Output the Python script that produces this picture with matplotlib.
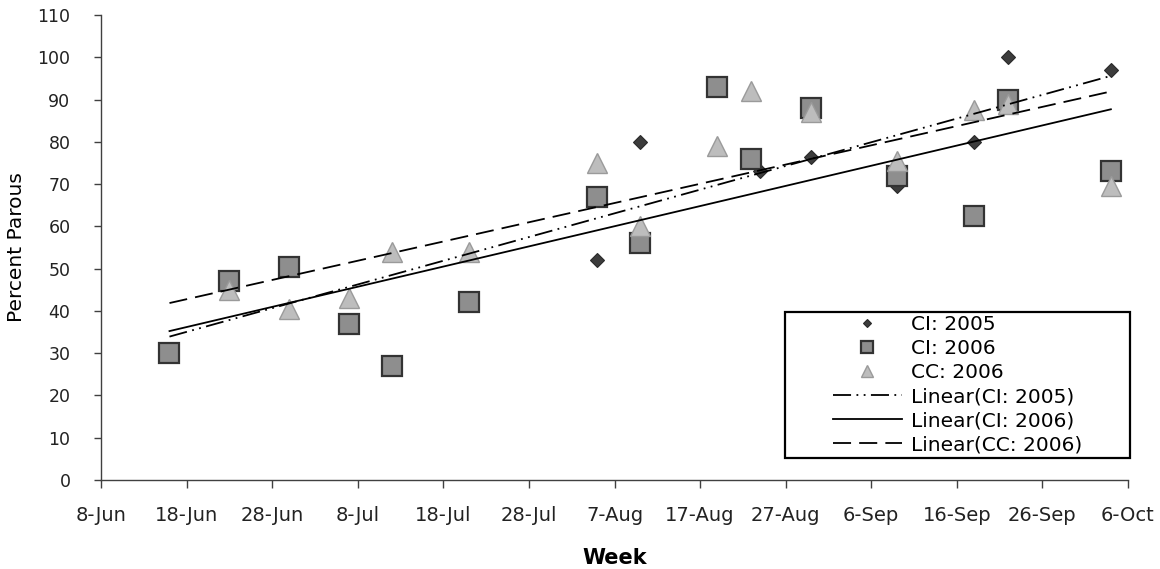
import matplotlib

matplotlib.use("Agg")

import matplotlib.dates as mdates
import matplotlib.pyplot as plt
import numpy as np
import pandas as pd
from matplotlib.patches import Rectangle

# Values (both years drawn on one seasonal axis)
ci05_dates = ["Aug 5", "Aug 10", "Aug 24", "Aug 30", "Sep 9", "Sep 18", "Sep 22", "Oct 4"]
ci05_vals = [52, 80, 73, 76.5, 69.5, 80, 100, 97]

ci06_dates = ["Jun 16", "Jun 23", "Jun 30", "Jul 7", "Jul 12", "Jul 21", "Aug 5", "Aug 10",
              "Aug 19", "Aug 23", "Aug 30", "Sep 9", "Sep 18", "Sep 22", "Oct 4"]
ci06_vals = [30, 47, 50.5, 37, 27, 42, 67, 56, 93, 76, 88, 72, 62.5, 90, 73]

cc06_dates = ["Jun 23", "Jun 30", "Jul 7", "Jul 12", "Jul 21", "Aug 5", "Aug 10", "Aug 19",
              "Aug 23", "Aug 30", "Sep 9", "Sep 18", "Sep 22", "Oct 4"]
cc06_vals = [45, 40.5, 43, 54, 54, 75, 60, 79, 92, 87, 75.5, 87.5, 89, 69.5]

series_names = ["CI: 2005", "CI: 2006", "CC: 2006"]

AXIS_COLOR = "#404040"


def to_dates(labels):
    return pd.to_datetime(["2006 " + s for s in labels], format="%Y %b %d")


plt.rcParams["font.family"] = ["DejaVu Sans"]

fig = plt.figure(figsize=(11.6, 5.69), dpi=100)
ax = fig.add_axes([0.0871, 0.1564, 0.8853, 0.8172])

series = [
    (to_dates(ci05_dates), np.array(ci05_vals, dtype=float)),
    (to_dates(ci06_dates), np.array(ci06_vals, dtype=float)),
    (to_dates(cc06_dates), np.array(cc06_vals, dtype=float)),
]

marker_styles = [
    dict(marker="D", markersize=7, markerfacecolor="#3c3c3c", markeredgecolor="#2a2a2a",
         markeredgewidth=0.8),
    dict(marker="s", markersize=14, markerfacecolor="#8e8e8e", markeredgecolor="#333333",
         markeredgewidth=1.6),
    dict(marker="^", markersize=14, markerfacecolor="#bdbdbd", markeredgecolor="#9a9a9a",
         markeredgewidth=1.0),
]
trend_styles = [
    (0, (10, 3, 1, 3, 1, 3)),
    "-",
    (0, (10, 4.5)),
]

marker_handles = []
for (dates, vals), name, style in zip(series, series_names, marker_styles):
    (h,) = ax.plot(dates, vals, linestyle="none", label=name, zorder=3, **style)
    marker_handles.append(h)

# linear trendlines, fitted on each series, drawn over the whole sampling period
all_x = np.concatenate([mdates.date2num(d) for d, _ in series])
x_span = np.array([all_x.min(), all_x.max()])
trend_handles = []
for (dates, vals), name, ls in zip(series, series_names, trend_styles):
    slope, intercept = np.polyfit(mdates.date2num(dates), vals, 1)
    (h,) = ax.plot(mdates.num2date(x_span), slope * x_span + intercept, color="black",
                   linestyle=ls, linewidth=1.3, label=f"Linear({name})", zorder=4)
    trend_handles.append(h)

# axes
ax.set_xlim(pd.Timestamp("2006-06-08"), pd.Timestamp("2006-10-06"))
ax.set_ylim(0, 110)
ax.set_yticks(np.arange(0, 111, 10))
ax.xaxis.set_major_locator(
    matplotlib.ticker.FixedLocator(mdates.date2num(pd.date_range("2006-06-08", "2006-10-06", freq="10D")))
)
ax.xaxis.set_major_formatter(mdates.DateFormatter("%-d-%b"))

for side in ["top", "right"]:
    ax.spines[side].set_visible(False)
for side in ["left", "bottom"]:
    ax.spines[side].set_color(AXIS_COLOR)
    ax.spines[side].set_linewidth(1.0)

ax.tick_params(axis="y", direction="out", length=5, width=1, color=AXIS_COLOR,
               labelsize=12.5, pad=17, labelcolor="#222222")
ax.tick_params(axis="x", direction="out", length=6, width=1, color=AXIS_COLOR,
               labelsize=14, pad=13, labelcolor="#222222")

ax.set_ylabel("Percent Parous", fontsize=14.5, labelpad=8)
ax.set_xlabel("Week", fontsize=15, fontweight="bold", labelpad=16)

# legend with framed box
leg = ax.legend(
    handles=marker_handles + trend_handles,
    loc="center",
    bbox_to_anchor=(0.834, 0.205),
    frameon=False,
    fontsize=14.5,
    markerscale=0.62,
    handlelength=3.4,
    handletextpad=0.45,
    labelspacing=0.25,
    borderpad=0.2,
)
ax.add_patch(Rectangle((0.666, 0.047), 0.336, 0.314, transform=ax.transAxes,
                       fill=False, edgecolor="black", linewidth=1.6, clip_on=False,
                       zorder=5))

fig.savefig("out.png", dpi=100, facecolor="white")
